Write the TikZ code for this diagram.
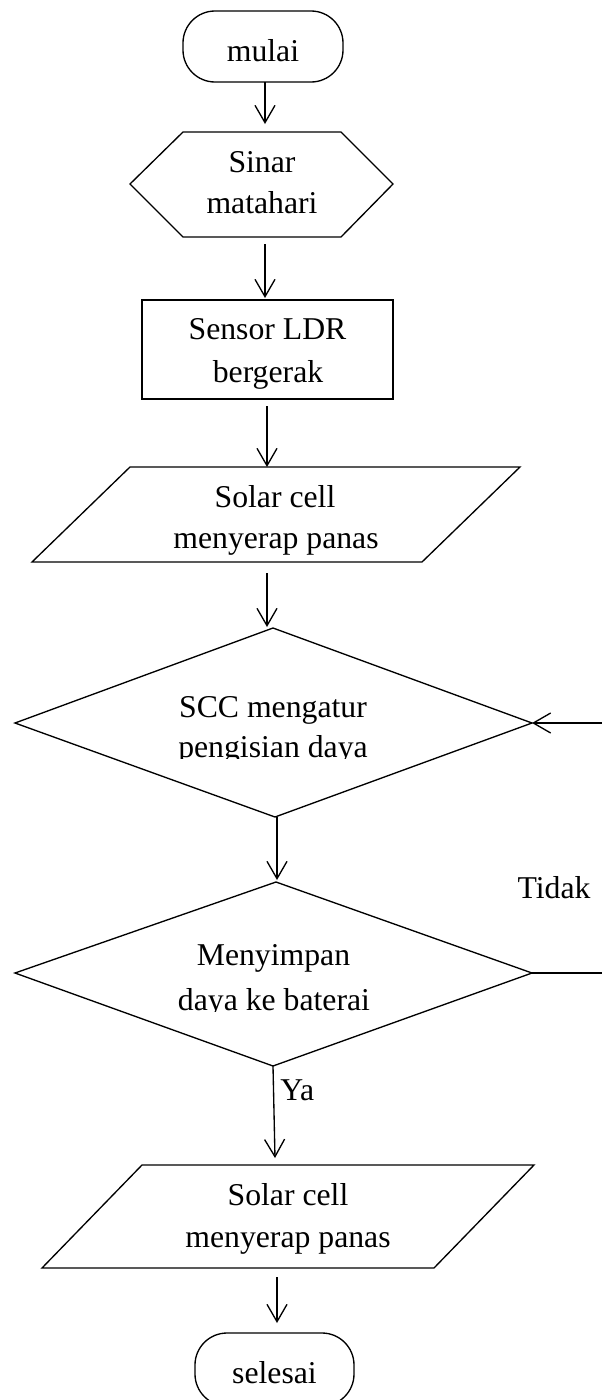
\documentclass[tikz,border=0pt]{standalone}
\usepackage{fontspec}
\setmainfont{Liberation Serif}
\usetikzlibrary{arrows.meta}
\begin{document}
\begin{tikzpicture}[x=0.75pt,y=-0.75pt,
  shp/.style={draw=black, line width=1pt, line join=miter},
  arr/.style={draw=black, line width=1pt, -{Straight Barb[length=13pt,width=15pt]}},
  lbl/.style={anchor=base, inner sep=0pt, font=\fontsize{23.8}{28}\selectfont}]
\useasboundingbox (0,0) rectangle (601,1400);

% --- shapes ---
\draw[shp, rounded corners=24pt] (183,11) rectangle (343,82);
\draw[shp] (130,184) -- (183,132) -- (341,132) -- (393,184) -- (341,237) -- (183,237) -- cycle;
\draw[shp] (142,300) rectangle (393,399);
\draw[shp] (130,467) -- (520,467) -- (422,562) -- (32,562) -- cycle;
\draw[shp] (273,628) -- (532,723) -- (275,817) -- (15,723) -- cycle;
\draw[shp] (276,882) -- (532,973) -- (273,1066) -- (15,973) -- cycle;
\draw[shp] (142,1165) -- (534,1165) -- (434,1268) -- (42,1268) -- cycle;
\draw[shp, rounded corners=24pt] (195,1333) rectangle (354,1406);

% --- connector end points ---
\coordinate (mulaiS) at (265,82);
\coordinate (hexIn) at (265,124);
\coordinate (hexOut) at (265,244);
\coordinate (rectIn) at (265,298);
\coordinate (rectOut) at (267,406);
\coordinate (paraAIn) at (267,467);
\coordinate (paraAOut) at (267,573);
\coordinate (dAIn) at (267,627);
\coordinate (dAOut) at (277,817);
\coordinate (dBIn) at (277,880);
\coordinate (dBS) at (273,1066);
\coordinate (paraBIn) at (275,1158);
\coordinate (paraBOut) at (277,1277);
\coordinate (selIn) at (277,1323);
\coordinate (dBE) at (532,973);
\coordinate (loopC) at (604,973);
\coordinate (dAE) at (532,723);

% --- texts ---
\node[lbl] (tMulai) at (263,61) {mulai};
\node[lbl] (tSinar1) at (262,172) {Sinar};
\node[lbl] (tSinar2) at (262,213) {matahari};
\node[lbl] (tLdr1) at (267.5,339) {Sensor LDR};
\node[lbl] (tLdr2) at (268,382) {bergerak};
\node[lbl] (tSolA1) at (275,507) {Solar cell};
\node[lbl] (tSolA2) at (276,548) {menyerap panas};
\node[lbl] (tScc1) at (273,717) {SCC mengatur};
\begin{scope}
  \clip (100,730) rectangle (450,758.5);
  \node[lbl] (tScc2) at (273,757) {pengisian daya};
\end{scope}
\node[lbl] (tSim1) at (273.5,965) {Menyimpan};
\begin{scope}
  \clip (100,980) rectangle (450,1011.5);
  \node[lbl] (tSim2) at (274,1010) {daya ke baterai};
\end{scope}
\node[lbl] (tSolB1) at (288,1205) {Solar cell};
\node[lbl] (tSolB2) at (288,1247) {menyerap panas};
\node[lbl] (tSel) at (274.5,1383) {selesai};
\node[lbl, anchor=base west] (tYa) at (280,1100) {Ya};
\node[lbl] (tTidak) at (554,898) {Tidak};

% --- connectors ---
\draw[arr] (mulaiS) -- (hexIn);
\draw[arr] (hexOut) -- (rectIn);
\draw[arr] (rectOut) -- (paraAIn);
\draw[arr] (paraAOut) -- (dAIn);
\draw[arr] (dAOut) -- (dBIn);
\draw[arr] (dBS) -- (paraBIn);
\draw[arr] (paraBOut) -- (selIn);
\draw[arr] (dBE) -- (loopC) |- (dAE);
\end{tikzpicture}
\end{document}
